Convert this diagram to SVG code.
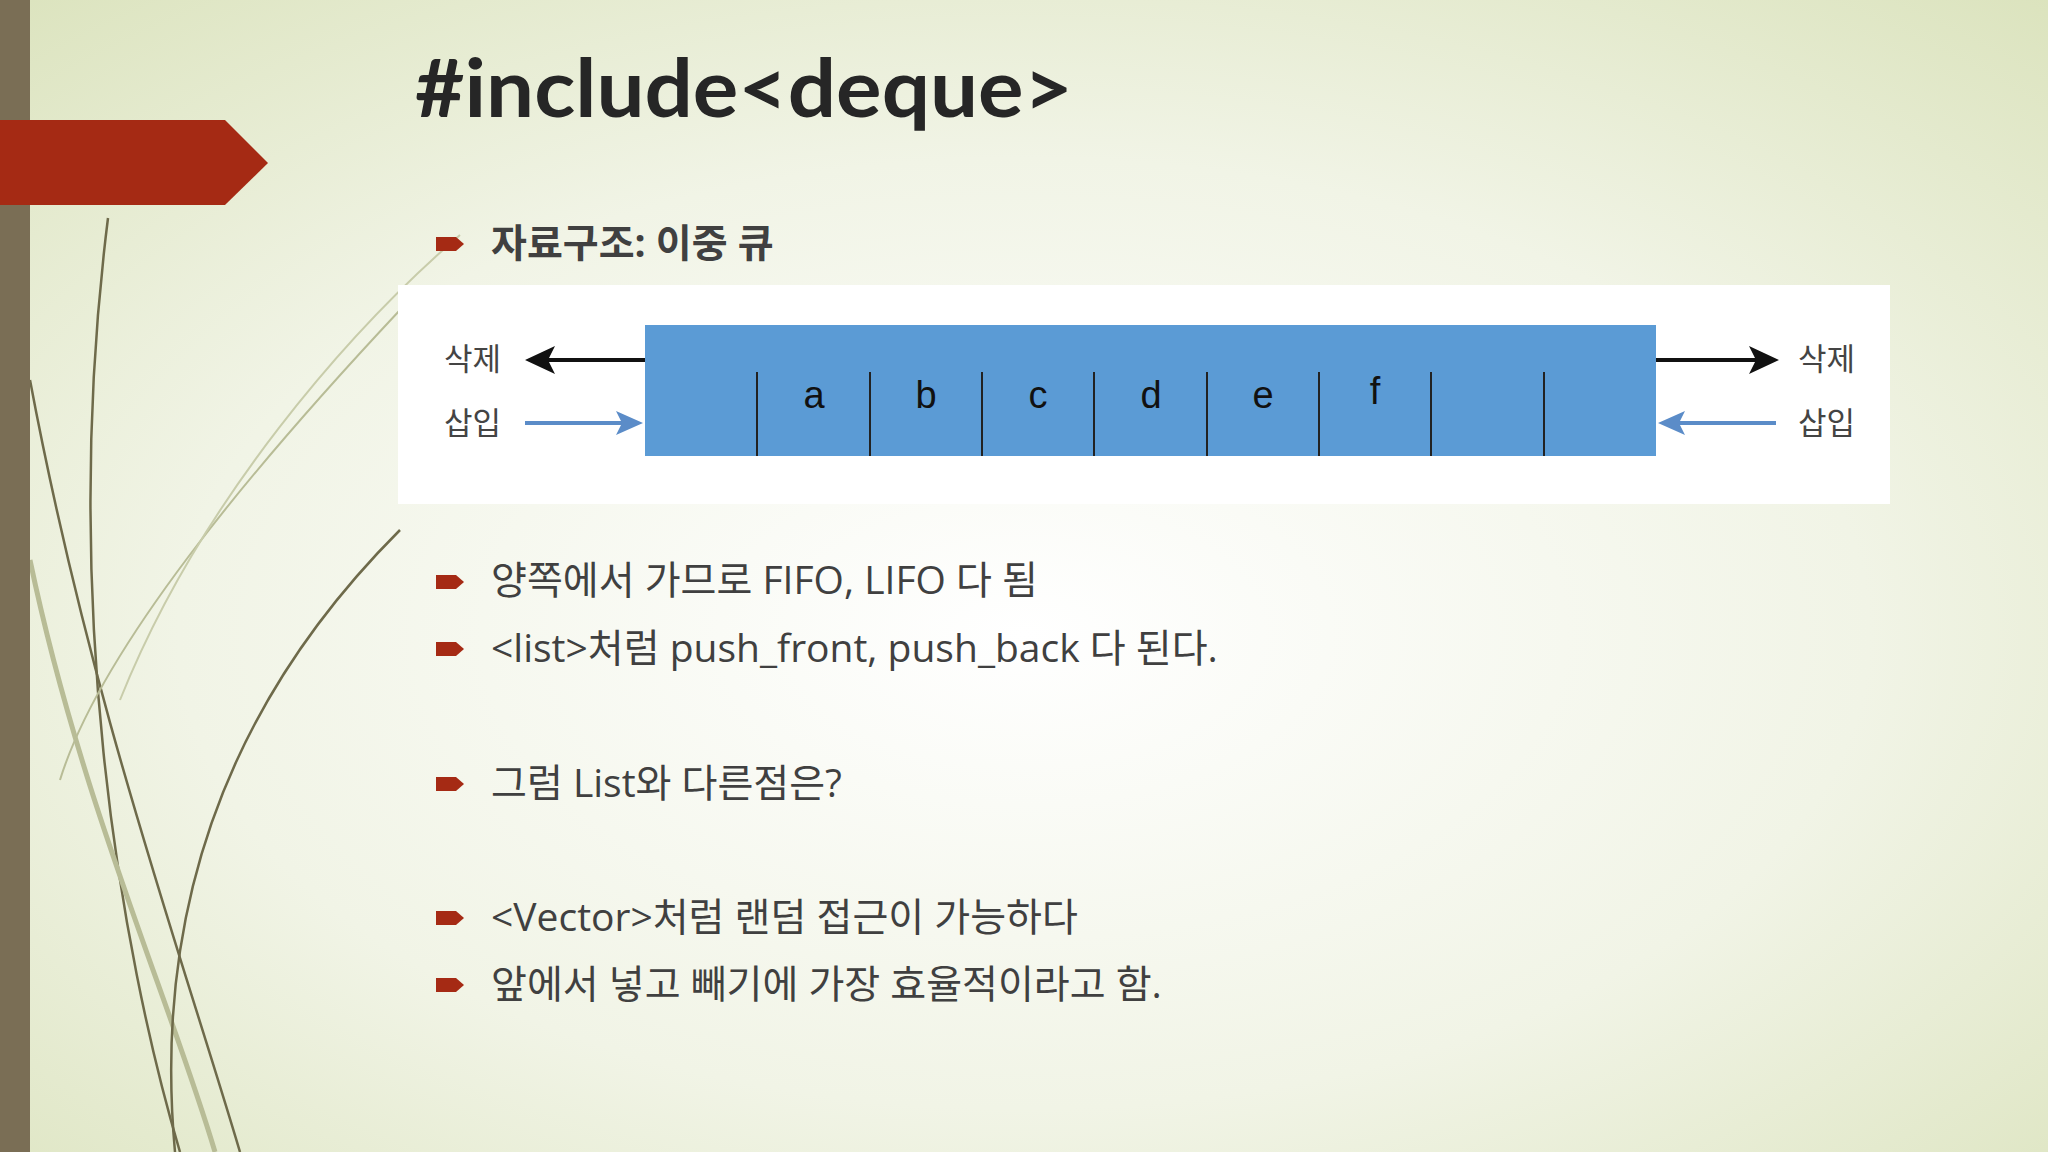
<svg xmlns="http://www.w3.org/2000/svg" width="2048" height="1152" viewBox="0 0 2048 1152">
<defs>
<radialGradient id="bg" cx="0.5" cy="0.55" r="0.75">
<stop offset="0" stop-color="#ffffff"/><stop offset="0.55" stop-color="#f1f4e6"/><stop offset="1" stop-color="#dbe3bd"/>
</radialGradient>
<marker id="ab" markerWidth="10" markerHeight="10" refX="9" refY="5" orient="auto" markerUnits="userSpaceOnUse"><path d="M0,0 L10,5 L0,10 Z" fill="#111"/></marker>
<polygon id="bul" points="0,-7 20,-7 28,0 20,7 0,7" fill="#a52a14"/>
</defs>
<style>
.t{font-family:"Open Sans","Noto Sans CJK KR",sans-serif;fill:#404040;font-size:39px}
.l{font-family:"Liberation Sans","Noto Sans CJK KR",sans-serif;fill:#444;font-size:31px}
.c{font-family:"Liberation Sans",sans-serif;fill:#111;font-size:38px;text-anchor:middle}
.d{stroke:#222;stroke-width:2}
</style>
<rect width="2048" height="1152" fill="url(#bg)"/>
<g fill="none" stroke-width="2.5">
<path d="M108,218 C60,600 120,950 180,1152" stroke="#6e6a4a"/>
<path d="M30,380 C90,700 180,950 240,1152" stroke="#6e6a4a"/>
<path d="M30,560 C80,800 170,1000 215,1152" stroke="#b8bc96" stroke-width="5"/>
<path d="M400,530 C250,680 150,880 175,1152" stroke="#6e6a4a"/>
<path d="M400,310 C250,470 100,650 60,780" stroke="#b8bc96" stroke-width="2"/>
<path d="M460,235 C350,330 200,500 120,700" stroke="#c8ccaa" stroke-width="2"/>
</g>
<rect x="0" y="0" width="30" height="1152" fill="#7a6e55"/>
<polygon points="0,120 225,120 268,163 225,205 0,205" fill="#a52a14"/>
<text x="415" y="117" font-family="Lato,'Liberation Sans',sans-serif" font-weight="bold" font-size="80" fill="#262626" textLength="658" lengthAdjust="spacingAndGlyphs">#include&lt;deque&gt;</text>
<g id="b1"><use href="#bul" x="436" y="244"/><text class="t" x="491" y="257" font-weight="bold" font-size="37">자료구조: 이중 큐</text></g>
<g id="deque">
<rect x="398" y="285" width="1492" height="219" fill="#ffffff"/>
<rect x="645" y="325" width="1011" height="131" fill="#5b9bd5"/>
<line class="d" x1="757" y1="372" x2="757" y2="456"/><line class="d" x1="870" y1="372" x2="870" y2="456"/>
<line class="d" x1="982" y1="372" x2="982" y2="456"/><line class="d" x1="1094" y1="372" x2="1094" y2="456"/>
<line class="d" x1="1207" y1="372" x2="1207" y2="456"/><line class="d" x1="1319" y1="372" x2="1319" y2="456"/>
<line class="d" x1="1431" y1="372" x2="1431" y2="456"/><line class="d" x1="1544" y1="372" x2="1544" y2="456"/>
<text class="c" x="814" y="408">a</text><text class="c" x="926" y="408">b</text><text class="c" x="1038" y="408">c</text>
<text class="c" x="1151" y="408">d</text><text class="c" x="1263" y="408">e</text><text class="c" x="1375" y="404">f</text>
<text class="l" x="444" y="370">삭제</text><text class="l" x="444" y="434">삽입</text>
<text class="l" x="1798" y="370">삭제</text><text class="l" x="1798" y="434">삽입</text>
</g>
<g id="connectors">
<path d="M645,360 L540,360" stroke="#111" stroke-width="4"/><path d="M525,360 L555,346 L548,360 L555,374 Z" fill="#111"/>
<path d="M1656,360 L1762,360" stroke="#111" stroke-width="4"/><path d="M1779,360 L1749,346 L1756,360 L1749,374 Z" fill="#111"/>
<path d="M525,423 L628,423" stroke="#5b8cc8" stroke-width="4"/><path d="M643,423 L616,411 L622,423 L616,435 Z" fill="#5b8cc8"/>
<path d="M1776,423 L1672,423" stroke="#5b8cc8" stroke-width="4"/><path d="M1658,423 L1685,411 L1679,423 L1685,435 Z" fill="#5b8cc8"/>
</g>
<g id="b2"><use href="#bul" x="436" y="582"/><text class="t" x="491" y="594">양쪽에서 가므로 FIFO, LIFO 다 됨</text></g>
<g id="b3"><use href="#bul" x="436" y="649"/><text class="t" x="491" y="662">&lt;list&gt;처럼 push_front, push_back 다 된다.</text></g>
<g id="b4"><use href="#bul" x="436" y="784"/><text class="t" x="491" y="797">그럼 List와 다른점은?</text></g>
<g id="b5"><use href="#bul" x="436" y="918"/><text class="t" x="491" y="931">&lt;Vector&gt;처럼 랜덤 접근이 가능하다</text></g>
<g id="b6"><use href="#bul" x="436" y="985"/><text class="t" x="491" y="998">앞에서 넣고 빼기에 가장 효율적이라고 함.</text></g>
</svg>
